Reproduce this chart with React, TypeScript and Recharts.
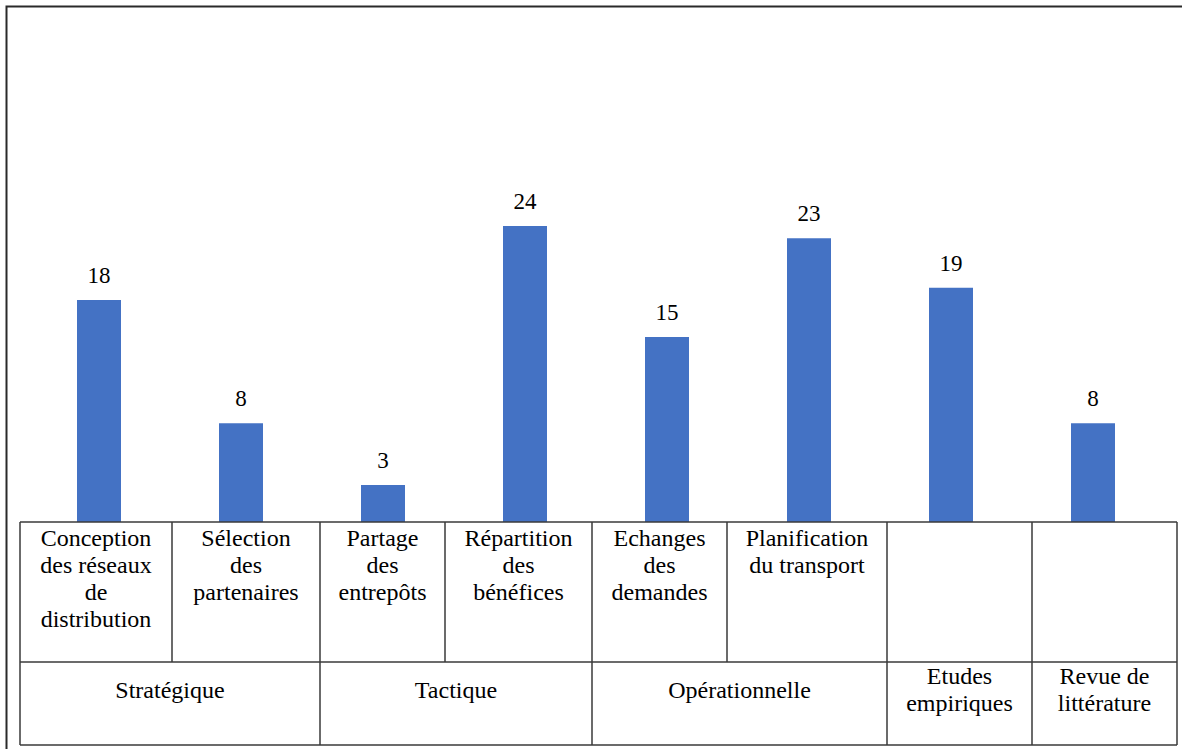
import React from "react";
import { BarChart, Bar, XAxis, YAxis, LabelList } from "recharts";

const categories = [
  "Conception des réseaux de distribution",
  "Sélection des partenaires",
  "Partage des entrepôts",
  "Répartition des bénéfices",
  "Echanges des demandes",
  "Planification du transport",
  "Etudes empiriques",
  "Revue de littérature",
];
const counts = [18, 8, 3, 24, 15, 23, 19, 8];

// top row of the table under the bars (last two are empty)
const cellLines = [
  ["Conception", "des réseaux", "de", "distribution"],
  ["Sélection", "des", "partenaires"],
  ["Partage", "des", "entrepôts"],
  ["Répartition", "des", "bénéfices"],
  ["Echanges", "des", "demandes"],
  ["Planification", "du transport"],
  [],
  [],
];
const groupNames = ["Stratégique", "Tactique", "Opérationnelle", "Etudes\nempiriques", "Revue de\nlittérature"];
const groupSpans = [2, 2, 2, 1, 1];

const W = 1182;
const H = 749;
const FONT = "Liberation Serif";
const LINE = "#3a3a3a";
// table column edges in px
const colEdges = [20, 172, 320, 445, 592, 727, 887, 1032, 1177];
const rowTop = 522;
const rowMid = 662;
const rowBottom = 745;

const data = categories.map((name, i) => ({ name, value: counts[i] }));

function Table() {
  const cells: React.ReactNode[] = [];
  cellLines.forEach((lines, i) => {
    cells.push(
      <div
        key={`c${i}`}
        style={{
          position: "absolute",
          left: colEdges[i],
          top: rowTop,
          width: colEdges[i + 1] - colEdges[i],
          height: rowMid - rowTop,
          textAlign: "center",
          lineHeight: "27px",
          paddingTop: 3,
          boxSizing: "border-box",
        }}
      >
        {lines.map((l, j) => (
          <div key={j}>{l}</div>
        ))}
      </div>
    );
  });
  let c = 0;
  groupNames.forEach((g, i) => {
    const x0 = colEdges[c];
    c += groupSpans[i];
    const x1 = colEdges[c];
    const lines = g.split("\n");
    cells.push(
      <div
        key={`g${i}`}
        style={{
          position: "absolute",
          left: x0,
          top: rowMid,
          width: x1 - x0,
          height: rowBottom - rowMid,
          textAlign: "center",
          lineHeight: "27px",
          paddingTop: lines.length > 1 ? 1 : 15,
          boxSizing: "border-box",
        }}
      >
        {lines.map((l, j) => (
          <div key={j}>{l}</div>
        ))}
      </div>
    );
  });

  // grid lines
  const lines: React.ReactNode[] = [];
  [rowTop, rowMid, rowBottom].forEach((y, i) =>
    lines.push(<line key={`h${i}`} x1={colEdges[0]} x2={colEdges[8]} y1={y} y2={y} stroke={LINE} strokeWidth={1.5} />)
  );
  colEdges.forEach((x, i) =>
    lines.push(<line key={`v${i}`} x1={x} x2={x} y1={rowTop} y2={rowMid} stroke={LINE} strokeWidth={1.5} />)
  );
  let k = 0;
  [0, ...groupSpans].forEach((s, i) => {
    k += s;
    const x = colEdges[k];
    lines.push(<line key={`gv${i}`} x1={x} x2={x} y1={rowMid} y2={rowBottom} stroke={LINE} strokeWidth={1.5} />);
  });

  return (
    <>
      {cells}
      <svg width={W} height={H} style={{ position: "absolute", left: 0, top: 0, pointerEvents: "none" }}>
        <rect x={6.5} y={6.5} width={W + 20} height={H + 20} fill="none" stroke="#2a2a2a" strokeWidth={2} />
        {lines}
      </svg>
    </>
  );
}

export default function App() {
  return (
    <div
      style={{
        position: "absolute",
        left: 0,
        top: 0,
        width: W,
        height: H,
        background: "#fff",
        fontFamily: FONT,
        fontSize: 24,
        color: "#000",
        overflow: "hidden",
      }}
    >
      <BarChart width={W} height={H} data={data} margin={{ top: 152, right: 18, bottom: 227, left: 28 }}>
        <XAxis dataKey="name" hide />
        <YAxis hide domain={[0, 30]} />
        <Bar dataKey="value" fill="#4472C4" barSize={44} isAnimationActive={false}>
          <LabelList dataKey="value" position="top" offset={17} fill="#000" fontSize={23} fontFamily={FONT} />
        </Bar>
      </BarChart>
      <Table />
    </div>
  );
}
